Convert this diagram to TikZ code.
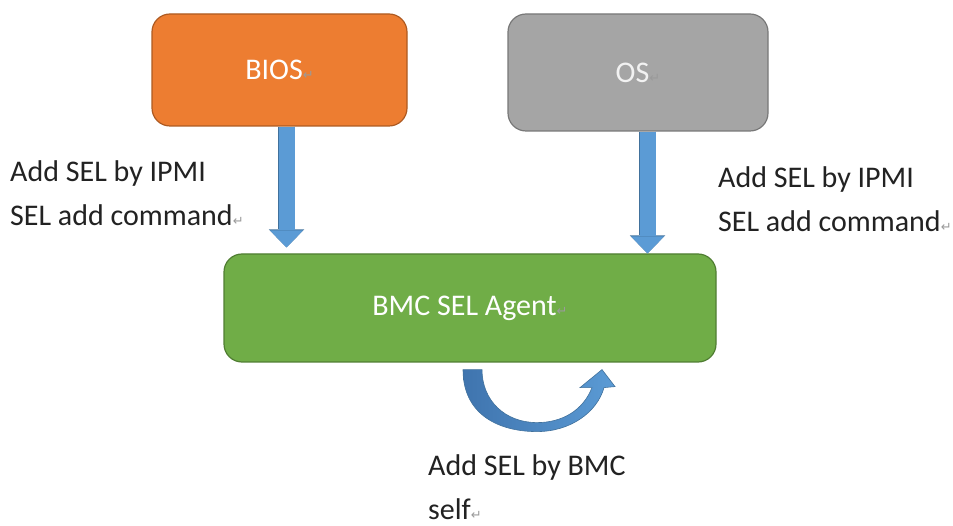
\documentclass[tikz,border=0pt]{standalone}
\usepackage{fontspec}
\setmainfont{Carlito}
\newfontfamily\dejavu{DejaVu Sans}
\usetikzlibrary{arrows.meta}
\usetikzlibrary{calc}
\usetikzlibrary{positioning}
\definecolor{biosorange}{HTML}{ED7D31}
\definecolor{biosedge}{HTML}{AE5A21}
\definecolor{osgray}{HTML}{A5A5A5}
\definecolor{osedge}{HTML}{787878}
\definecolor{ostext}{HTML}{F2F2F2}
\definecolor{bmcgreen}{HTML}{70AD47}
\definecolor{bmcedge}{HTML}{507E32}
\definecolor{flowblue}{HTML}{5B9BD5}
\definecolor{flowedge}{HTML}{41719C}
\definecolor{loopdark}{HTML}{3F74AE}
\definecolor{labeltext}{HTML}{222222}
\definecolor{retgray}{HTML}{9A9A9A}
\newcommand{\retmark}{{\dejavu\fontsize{13}{13}\selectfont\textcolor{retgray}{↵}}}
\tikzset{
  box/.style = {rectangle, rounded corners=18pt, line width=1.2pt, inner sep=0pt,
    font=\fontsize{30}{44}\selectfont, text=white},
  lbl/.style = {anchor=base west, inner sep=0pt, align=left,
    font=\fontsize{30}{44}\selectfont, text=labeltext},
  flow/.style = {draw=flowblue, line width=16pt,
    -{Triangle[width=33pt,length=17pt,line width=0pt]},
    preaction={draw=flowedge, line width=17.5pt,
      -{Triangle[width=35.5pt,length=18pt,line width=0pt]}}}
}

\begin{document}
\begin{tikzpicture}[x=1pt,y=-1pt]
\useasboundingbox (0,0) rectangle (953,526);

% the three boxes
\node [box, fill=biosorange, draw=biosedge, minimum width=255pt, minimum height=112pt]
  (bios) at (279.5,70) {BIOS\retmark};
\node [box, fill=osgray, draw=osedge, text=ostext, minimum width=260pt, minimum height=117pt]
  (os) at (638,72.5) {OS\retmark};
\node [box, fill=bmcgreen, draw=bmcedge, minimum width=492pt, minimum height=108pt]
  (bmc) at (470,308) {BMC SEL Agent\retmark};

% IPMI arrows
\draw [flow, shorten >=6pt] ([xshift=7pt]bios.south) -- ([xshift=7pt]bios.south |- bmc.north);
\draw [flow] ([xshift=9.5pt]os.south) -- ([xshift=9.5pt]os.south |- bmc.north);

% self loop under the agent
\begin{scope}[shift={(bmc.south)}]
\shade [left color=loopdark, right color=flowblue, draw=flowedge, line width=0.6pt]
  (-7,7) .. controls (-7,53) and (30,69) .. (67,69)
  .. controls (100,69) and (127,50) .. (134,25)
  -- (145,24) -- (132,7) -- (110,25) -- (122,25)
  .. controls (113,48) and (92,60) .. (67,60)
  .. controls (35,60) and (12,38) .. (12,7) -- cycle;
\end{scope}

% labels (base = last line)
\node [lbl] (biosmsg) at (10,226) {Add SEL by IPMI\\SEL add command\retmark};
\node [lbl] (osmsg) at (718,232) {Add SEL by IPMI\\SEL add command\retmark};
\node [lbl] (selfmsg) at (428,519) {Add SEL by BMC\\self\retmark};
\end{tikzpicture}
\end{document}
